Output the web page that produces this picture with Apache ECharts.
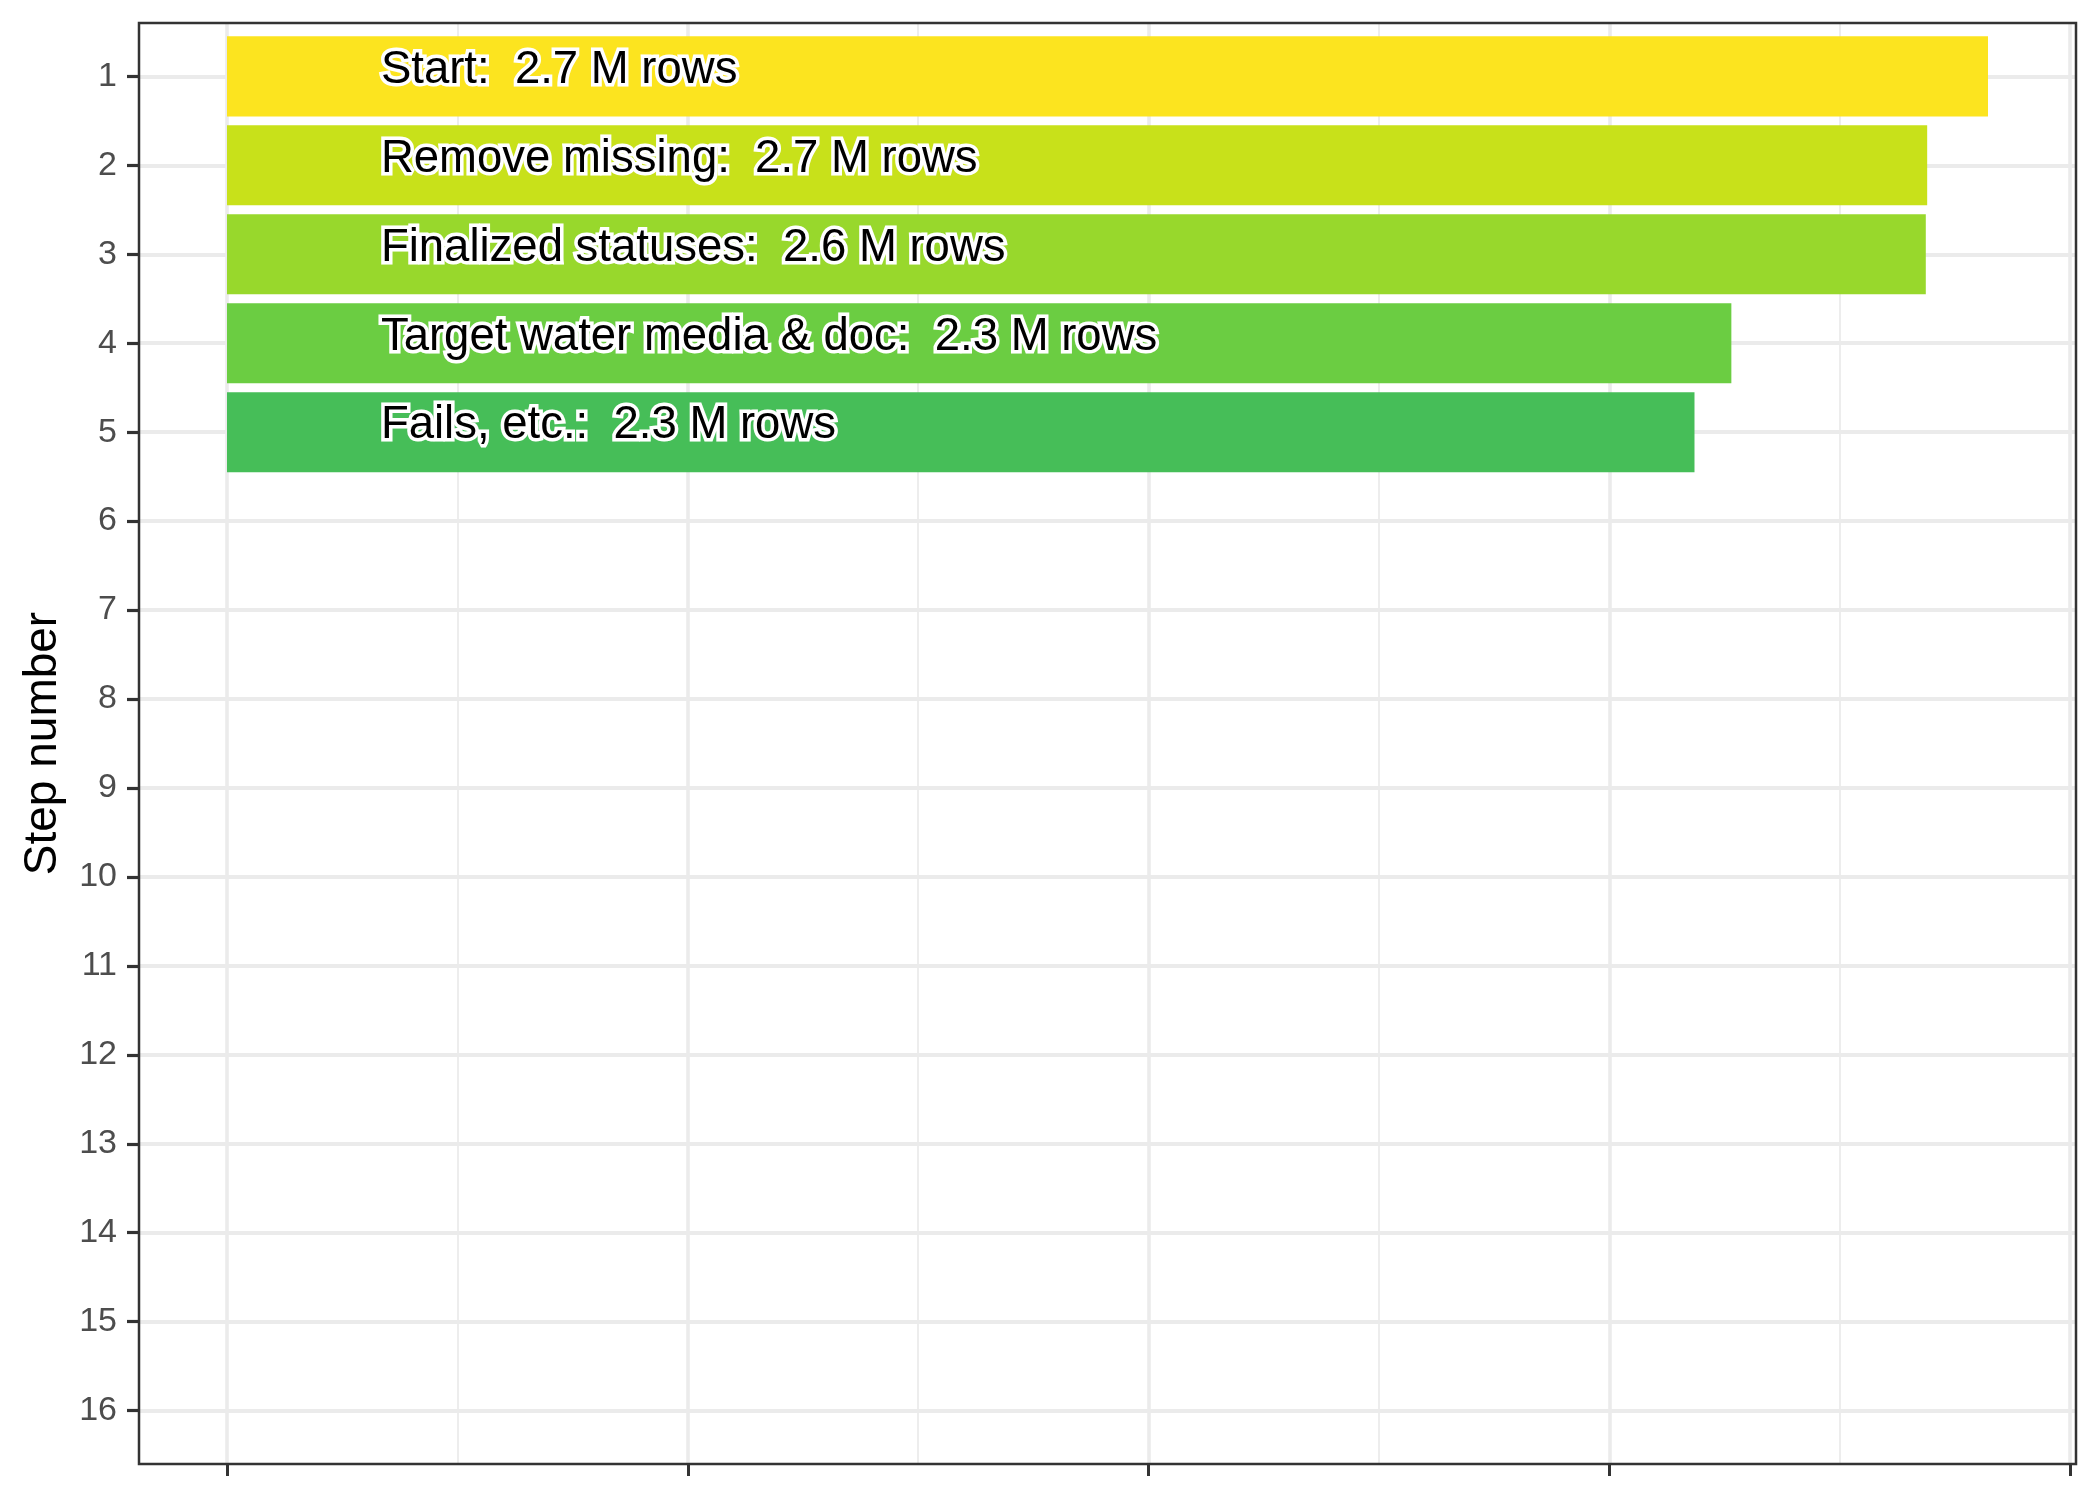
<!DOCTYPE html>
<html>
<head>
<meta charset="utf-8">
<script src="https://cdn.jsdelivr.net/npm/echarts@6/dist/echarts.min.js"></script>
<style>
  html, body { margin: 0; padding: 0; background: #fff; }
  #chart { width: 2100px; height: 1500px; }
</style>
</head>
<body>
<div id="chart"></div>
<script>
// ---- data ----
const steps = [1, 2, 3, 4, 5];
const barLengths = [3.822, 3.690, 3.687, 3.265, 3.185]; // unlabeled x-axis units
const stepLabels = [
  'Start:  2.7 M rows',
  'Remove missing:  2.7 M rows',
  'Finalized statuses:  2.6 M rows',
  'Target water media & doc:  2.3 M rows',
  'Fails, etc.:  2.3 M rows'
];
const barColors = ['#FCE41F', '#C8E11A', '#98D82C', '#6BCD42', '#46BE58'];
const yTicks = [1, 2, 3, 4, 5, 6, 7, 8, 9, 10, 11, 12, 13, 14, 15, 16];
const xMajorTicks = [0, 1, 2, 3, 4];
const xMinorTicks = [0.5, 1.5, 2.5, 3.5];
const labelX = 0.334;

const FONT = '"Liberation Sans", Arial, Helvetica, sans-serif';

const barData = steps.map((s, i) => [barLengths[i], s, i]);
const labelData = steps.map((s, i) => [labelX, s, i]);

const chart = echarts.init(document.getElementById('chart'), null, { renderer: 'canvas' });

const option = {
  backgroundColor: '#ffffff',
  animation: false,
  grid: {
    left: 139, right: 24, top: 23, bottom: 36,
    containLabel: false, outerBoundsMode: 'none',
    show: true, borderColor: '#333333', borderWidth: 2.5, backgroundColor: 'transparent',
    z: 5
  },
  xAxis: [
    {
      type: 'value', min: -0.191, max: 4.013,
      axisLine: { show: false, onZero: false },
      axisLabel: { show: false },
      axisTick: { show: true, customValues: xMajorTicks, length: 12, lineStyle: { color: '#333333', width: 3 } },
      splitLine: { show: true, lineStyle: { color: '#EBEBEB', width: 3.6 } },
      minorTick: { show: false }, minorSplitLine: { show: false }
    },
    {
      type: 'value', min: -0.191, max: 4.013, position: 'bottom',
      axisLine: { show: false, onZero: false },
      axisLabel: { show: false },
      axisTick: { show: false, customValues: xMinorTicks },
      splitLine: { show: true, lineStyle: { color: '#EBEBEB', width: 1.8 } }
    }
  ],
  yAxis: {
    type: 'value', inverse: true, min: 0.4, max: 16.6,
    name: 'Step number', nameLocation: 'middle', nameGap: 73, nameRotate: 90,
    nameMoveOverlap: false,
    nameTextStyle: { fontSize: 46, color: '#000000', fontFamily: FONT },
    axisLine: { show: false, onZero: false },
    axisTick: { show: true, customValues: yTicks, length: 12, lineStyle: { color: '#333333', width: 3.2 } },
    axisLabel: { show: true, customValues: yTicks, fontSize: 34, color: '#4D4D4D', fontFamily: FONT, margin: 22 },
    splitLine: { show: true, lineStyle: { color: '#EBEBEB', width: 4 } }
  },
  series: [
    {
      type: 'custom',
      xAxisIndex: 0, yAxisIndex: 0,
      data: barData,
      encode: { x: 0, y: 1 },
      z: 2,
      renderItem: function (params, api) {
        const v = api.value(0), s = api.value(1), ci = api.value(2);
        const p0 = api.coord([0, s]);
        const p1 = api.coord([v, s]);
        const h = api.size([0, 1])[1] * 0.9;
        return {
          type: 'rect',
          shape: { x: p0[0], y: p0[1] - h / 2, width: p1[0] - p0[0], height: h },
          style: { fill: barColors[ci] }
        };
      }
    },
    {
      type: 'custom',
      xAxisIndex: 0, yAxisIndex: 0,
      data: labelData,
      encode: { x: 0, y: 1 },
      z: 3,
      renderItem: function (params, api) {
        const x = api.value(0), s = api.value(1), i = api.value(2);
        const p = api.coord([x, s - 0.07]);
        return {
          type: 'text',
          x: p[0], y: p[1],
          style: {
            text: stepLabels[i],
            font: '45.5px ' + FONT,
            fill: '#000000',
            stroke: '#ffffff',
            lineWidth: 7,
            align: 'left',
            verticalAlign: 'middle'
          }
        };
      }
    }
  ]
};

chart.setOption(option);
</script>
</body>
</html>
